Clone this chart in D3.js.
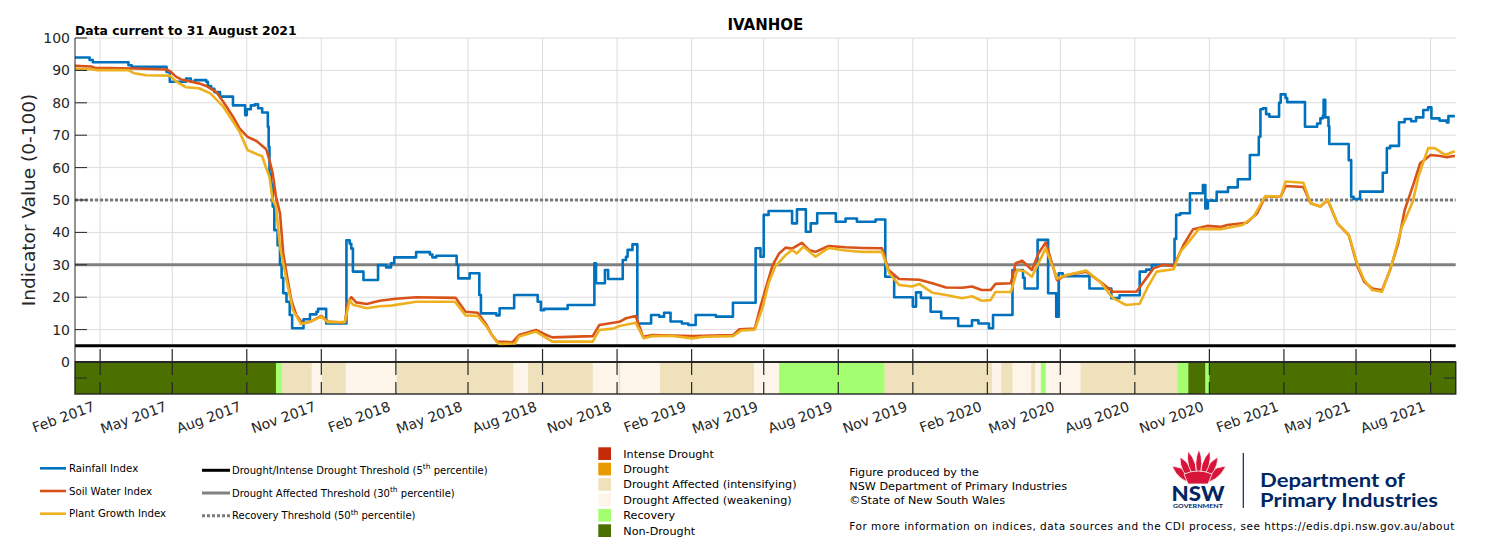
<!DOCTYPE html>
<html>
<head>
<meta charset="utf-8">
<script src="https://cdn.jsdelivr.net/npm/d3@7"></script>
<style>
  body { margin: 0; background: #fff; }
  svg { display: block; font-family: 'DejaVu Sans', sans-serif; }
</style>
</head>
<body>
<div id="chart"></div>
<script>
(function () {

  // rainfall index (step series), [date, value]
  const rainfall = [
    ['2017-01-01', 94.0], ['2017-01-19', 93.2], ['2017-01-23', 92.5], ['2017-03-08', 91.6],
    ['2017-03-12', 91.1], ['2017-04-24', 89.5], ['2017-04-28', 86.5], ['2017-05-18', 87.5],
    ['2017-05-24', 86.5], ['2017-05-29', 87.0], ['2017-06-12', 86.5], ['2017-06-14', 85.2],
    ['2017-06-18', 84.3], ['2017-06-22', 83.3], ['2017-06-29', 81.9], ['2017-07-15', 79.2],
    ['2017-07-30', 76.2], ['2017-08-01', 78.0], ['2017-08-06', 79.2], ['2017-08-11', 79.5],
    ['2017-08-15', 78.3], ['2017-08-20', 77.0], ['2017-08-27', 72.6], ['2017-08-28', 66.4],
    ['2017-08-29', 58.1], ['2017-08-31', 55.0], ['2017-09-02', 48.0], ['2017-09-04', 40.7],
    ['2017-09-08', 36.0], ['2017-09-11', 30.0], ['2017-09-13', 26.0], ['2017-09-15', 21.2],
    ['2017-09-19', 18.6], ['2017-09-23', 14.5], ['2017-09-26', 10.4], ['2017-10-10', 13.2],
    ['2017-10-18', 14.7], ['2017-10-26', 15.5], ['2017-10-28', 16.4], ['2017-11-07', 11.9],
    ['2017-12-02', 37.6], ['2017-12-06', 36.5], ['2017-12-08', 35.0], ['2017-12-10', 27.9],
    ['2017-12-23', 25.3], ['2018-01-10', 29.9], ['2018-01-20', 29.2], ['2018-01-26', 30.5],
    ['2018-01-30', 32.3], ['2018-02-26', 33.9], ['2018-03-15', 33.2], ['2018-03-18', 32.3],
    ['2018-03-23', 32.8], ['2018-04-17', 30.0], ['2018-04-19', 25.8], ['2018-05-03', 27.4],
    ['2018-05-15', 20.7], ['2018-05-17', 15.0], ['2018-06-05', 14.4], ['2018-06-09', 16.6],
    ['2018-06-27', 20.7], ['2018-07-26', 18.6], ['2018-07-30', 16.0], ['2018-08-03', 16.4],
    ['2018-09-01', 17.6], ['2018-10-04', 30.5], ['2018-10-06', 24.3], ['2018-10-17', 28.4],
    ['2018-10-21', 25.6], ['2018-11-08', 31.5], ['2018-11-12', 32.5], ['2018-11-14', 34.6],
    ['2018-11-20', 36.3], ['2018-11-26', 11.9], ['2018-12-13', 14.5], ['2018-12-23', 14.0],
    ['2018-12-29', 15.2], ['2019-01-06', 12.5], ['2019-01-20', 11.9], ['2019-01-28', 11.4],
    ['2019-02-06', 14.5], ['2019-03-03', 14.0], ['2019-03-24', 18.3], ['2019-04-21', 35.1],
    ['2019-04-27', 32.5], ['2019-05-01', 45.4], ['2019-05-07', 46.6], ['2019-06-05', 42.8],
    ['2019-06-11', 47.1], ['2019-06-22', 40.2], ['2019-06-28', 42.8], ['2019-07-06', 45.9],
    ['2019-07-29', 43.3], ['2019-08-10', 44.3], ['2019-08-24', 43.3], ['2019-09-16', 44.0],
    ['2019-09-28', 26.3], ['2019-10-09', 20.0], ['2019-11-01', 17.1], ['2019-11-05', 21.5],
    ['2019-11-11', 19.8], ['2019-11-23', 15.5], ['2019-12-06', 13.5], ['2019-12-27', 11.1],
    ['2020-01-13', 12.9], ['2020-01-21', 11.9], ['2020-02-03', 10.4], ['2020-02-08', 14.5],
    ['2020-03-03', 28.4], ['2020-03-16', 26.0], ['2020-03-18', 22.7], ['2020-04-03', 37.7],
    ['2020-04-16', 21.2], ['2020-04-26', 14.0], ['2020-04-29', 27.4], ['2020-05-04', 26.5],
    ['2020-06-06', 22.7], ['2020-07-03', 19.7], ['2020-07-13', 20.6], ['2020-08-07', 27.9],
    ['2020-08-15', 28.5], ['2020-08-22', 29.9], ['2020-09-19', 38.0], ['2020-09-21', 45.4],
    ['2020-09-26', 45.9], ['2020-10-08', 52.1], ['2020-10-24', 54.6], ['2020-10-27', 47.4],
    ['2020-10-30', 49.8], ['2020-11-10', 52.5], ['2020-11-24', 53.9], ['2020-12-06', 56.4],
    ['2020-12-21', 63.9], ['2021-01-01', 69.5], ['2021-01-03', 78.0], ['2021-01-06', 78.3],
    ['2021-01-10', 76.5], ['2021-01-14', 75.7], ['2021-01-26', 80.0], ['2021-01-28', 82.6],
    ['2021-02-03', 81.5], ['2021-02-05', 80.2], ['2021-02-27', 72.6], ['2021-03-14', 73.6],
    ['2021-03-18', 75.2], ['2021-03-21', 76.0], ['2021-03-22', 80.9], ['2021-03-24', 75.5],
    ['2021-03-28', 72.8], ['2021-03-29', 67.3], ['2021-04-22', 62.3], ['2021-04-25', 51.0],
    ['2021-04-28', 50.3], ['2021-05-06', 52.6], ['2021-06-03', 58.4], ['2021-06-08', 66.0],
    ['2021-06-12', 66.7], ['2021-06-23', 74.0], ['2021-06-30', 75.0], ['2021-07-08', 74.3],
    ['2021-07-14', 75.5], ['2021-07-23', 77.8], ['2021-07-29', 78.6], ['2021-08-02', 75.2],
    ['2021-08-12', 74.5], ['2021-08-21', 73.9], ['2021-08-23', 75.9], ['2021-08-31', 75.9]
  ];

  // soil water index
  const soilWater = [
    ['2017-01-01', 91.4], ['2017-01-21', 91.2], ['2017-01-25', 90.8], ['2017-03-15', 90.6],
    ['2017-04-24', 90.3], ['2017-04-28', 89.8], ['2017-05-06', 88.0], ['2017-05-12', 87.2],
    ['2017-06-03', 86.0], ['2017-06-12', 85.2], ['2017-06-24', 83.4], ['2017-07-03', 80.3],
    ['2017-07-15', 75.7], ['2017-07-23', 72.1], ['2017-08-02', 69.5], ['2017-08-13', 68.2],
    ['2017-08-25', 65.7], ['2017-08-29', 62.3], ['2017-09-02', 58.2], ['2017-09-06', 51.0],
    ['2017-09-11', 45.9], ['2017-09-15', 33.5], ['2017-09-19', 27.4], ['2017-09-25', 19.1],
    ['2017-10-01', 14.5], ['2017-10-09', 11.9], ['2017-10-18', 12.4], ['2017-11-01', 14.2],
    ['2017-11-09', 12.5], ['2017-11-30', 12.1], ['2017-12-04', 18.6], ['2017-12-08', 20.0],
    ['2017-12-14', 18.4], ['2017-12-27', 17.9], ['2018-01-12', 18.9], ['2018-02-01', 19.5],
    ['2018-02-26', 20.0], ['2018-04-16', 19.8], ['2018-04-20', 18.3], ['2018-04-28', 15.5],
    ['2018-05-13', 15.2], ['2018-05-24', 11.4], ['2018-05-30', 8.5], ['2018-06-06', 6.3],
    ['2018-06-25', 6.1], ['2018-07-03', 8.3], ['2018-07-24', 9.9], ['2018-08-05', 8.4],
    ['2018-08-13', 7.6], ['2018-10-02', 8.0], ['2018-10-10', 11.4], ['2018-11-04', 12.4],
    ['2018-11-12', 13.5], ['2018-11-24', 14.2], ['2018-12-03', 7.8], ['2018-12-15', 8.3],
    ['2019-02-02', 8.0], ['2019-03-24', 8.3], ['2019-04-01', 10.1], ['2019-04-20', 10.3],
    ['2019-04-27', 17.1], ['2019-05-04', 23.2], ['2019-05-12', 29.9], ['2019-05-20', 33.5],
    ['2019-05-28', 35.3], ['2019-06-05', 35.0], ['2019-06-17', 36.8], ['2019-06-26', 34.5],
    ['2019-07-04', 34.0], ['2019-07-20', 35.8], ['2019-08-10', 35.4], ['2019-08-31', 35.2],
    ['2019-09-24', 35.1], ['2019-10-02', 28.4], ['2019-10-15', 25.6], ['2019-11-09', 25.4],
    ['2019-11-25', 24.3], ['2019-12-12', 23.0], ['2020-01-01', 22.9], ['2020-01-13', 23.3],
    ['2020-01-25', 22.2], ['2020-02-05', 22.2], ['2020-02-11', 24.1], ['2020-03-01', 24.3],
    ['2020-03-07', 30.5], ['2020-03-15', 31.3], ['2020-03-27', 28.4], ['2020-04-04', 33.5],
    ['2020-04-13', 36.9], ['2020-04-27', 25.3], ['2020-05-08', 26.8], ['2020-06-02', 27.9],
    ['2020-06-19', 24.8], ['2020-07-05', 21.7], ['2020-08-03', 21.7], ['2020-08-24', 28.9],
    ['2020-09-05', 30.0], ['2020-09-18', 29.6], ['2020-09-30', 36.1], ['2020-10-12', 41.0],
    ['2020-10-29', 42.0], ['2020-11-15', 41.7], ['2020-11-23', 42.3], ['2020-12-17', 43.0],
    ['2020-12-30', 45.9], ['2021-01-09', 51.0], ['2021-01-28', 51.0], ['2021-02-03', 54.3],
    ['2021-02-25', 54.0], ['2021-03-06', 49.0], ['2021-03-18', 48.0], ['2021-03-27', 50.0],
    ['2021-04-08', 42.8], ['2021-04-22', 39.2], ['2021-05-03', 29.4], ['2021-05-11', 24.8],
    ['2021-05-21', 22.7], ['2021-06-02', 22.1], ['2021-06-12', 28.4], ['2021-06-22', 36.6],
    ['2021-06-30', 46.9], ['2021-07-11', 55.0], ['2021-07-19', 61.3], ['2021-08-01', 63.9],
    ['2021-08-13', 63.6], ['2021-08-21', 63.2], ['2021-08-29', 63.6], ['2021-08-31', 63.5]
  ];

  // plant growth index
  const plantGrowth = [
    ['2017-01-01', 90.4], ['2017-01-21', 90.4], ['2017-01-27', 90.1], ['2017-03-08', 90.1],
    ['2017-03-15', 89.1], ['2017-03-30', 88.5], ['2017-04-28', 88.4], ['2017-05-06', 86.5],
    ['2017-05-18', 84.8], ['2017-06-03', 84.5], ['2017-06-17', 82.9], ['2017-07-03', 78.8],
    ['2017-07-15', 74.2], ['2017-07-23', 71.1], ['2017-08-02', 65.4], ['2017-08-13', 64.2],
    ['2017-08-20', 63.5], ['2017-08-25', 59.8], ['2017-08-29', 57.2], ['2017-09-02', 50.0],
    ['2017-09-06', 48.0], ['2017-09-11', 35.6], ['2017-09-19', 25.3], ['2017-09-27', 16.0],
    ['2017-10-07', 11.7], ['2017-10-18', 12.4], ['2017-11-01', 14.0], ['2017-11-09', 12.3],
    ['2017-11-30', 12.3], ['2017-12-06', 19.1], ['2017-12-10', 17.7], ['2017-12-27', 16.6],
    ['2018-01-12', 17.2], ['2018-01-26', 17.4], ['2018-02-26', 18.6], ['2018-04-15', 18.6],
    ['2018-04-28', 14.4], ['2018-05-13', 14.2], ['2018-05-24', 10.9], ['2018-06-05', 6.3],
    ['2018-06-09', 5.6], ['2018-06-28', 5.7], ['2018-07-03', 7.9], ['2018-07-24', 9.4],
    ['2018-08-13', 6.3], ['2018-10-02', 6.3], ['2018-10-10', 9.9], ['2018-10-27', 10.3],
    ['2018-11-04', 11.1], ['2018-11-24', 12.1], ['2018-12-04', 7.3], ['2018-12-15', 8.0],
    ['2019-01-06', 8.1], ['2019-02-02', 7.3], ['2019-02-16', 7.8], ['2019-03-24', 8.0],
    ['2019-04-03', 9.7], ['2019-04-20', 10.0], ['2019-04-30', 17.1], ['2019-05-07', 24.3],
    ['2019-05-15', 29.4], ['2019-05-28', 33.0], ['2019-06-05', 34.6], ['2019-06-11', 33.5],
    ['2019-06-19', 35.6], ['2019-07-04', 32.5], ['2019-07-20', 35.2], ['2019-08-10', 34.4],
    ['2019-08-31', 34.0], ['2019-09-24', 34.0], ['2019-10-03', 27.4], ['2019-10-15', 23.8],
    ['2019-10-31', 23.3], ['2019-11-09', 24.1], ['2019-11-25', 21.4], ['2019-12-12', 20.7],
    ['2020-01-01', 19.7], ['2020-01-13', 20.3], ['2020-01-25', 18.9], ['2020-02-05', 19.1],
    ['2020-02-11', 21.6], ['2020-03-01', 21.6], ['2020-03-09', 28.4], ['2020-03-18', 28.0],
    ['2020-03-27', 26.3], ['2020-04-04', 30.5], ['2020-04-13', 35.1], ['2020-04-27', 25.8],
    ['2020-05-08', 26.8], ['2020-06-02', 28.2], ['2020-06-19', 24.8], ['2020-07-05', 19.7],
    ['2020-07-21', 17.6], ['2020-08-07', 18.0], ['2020-08-17', 23.2], ['2020-08-28', 27.9],
    ['2020-09-18', 28.6], ['2020-09-26', 34.0], ['2020-10-05', 36.6], ['2020-10-19', 41.0],
    ['2020-11-15', 41.0], ['2020-12-12', 42.3], ['2020-12-26', 45.0], ['2021-01-09', 51.2],
    ['2021-01-28', 51.0], ['2021-02-03', 55.7], ['2021-02-25', 55.3], ['2021-03-06', 49.0],
    ['2021-03-18', 48.0], ['2021-03-27', 50.2], ['2021-04-08', 42.8], ['2021-04-22', 39.2],
    ['2021-05-03', 30.0], ['2021-05-11', 25.3], ['2021-05-21', 22.2], ['2021-06-02', 21.7],
    ['2021-06-14', 30.0], ['2021-06-26', 41.3], ['2021-07-10', 49.5], ['2021-07-17', 57.2],
    ['2021-07-29', 66.0], ['2021-08-06', 66.0], ['2021-08-19', 63.9], ['2021-08-29', 64.9],
    ['2021-08-31', 64.9]
  ];

  // drought category strip: start date of each spell and its category
  const spellStarts = [
    '2017-01-01', '2017-09-06', '2017-09-13', '2017-10-20', '2017-11-02', '2017-12-01',
    '2018-02-02', '2018-06-26', '2018-07-14', '2018-10-02', '2018-11-03', '2018-11-05',
    '2018-12-24', '2019-04-19', '2019-05-20', '2019-09-27', '2020-02-07', '2020-02-18',
    '2020-03-03', '2020-03-26', '2020-03-31', '2020-04-07', '2020-04-13', '2020-05-26',
    '2020-09-23', '2020-10-06', '2020-10-27', '2020-11-01'
  ];
  const spellCats = [
    5, 4, 2, 3, 2, 3,
    2, 3, 2, 3, 2, 3,
    2, 3, 4, 2, 3, 2,
    3, 2, 3, 4, 3, 2,
    4, 5, 4, 5
  ];
  const endDate = '2021-09-01';

  const categories = ['Intense Drought', 'Drought', 'Drought Affected (intensifying)',
    'Drought Affected (weakening)', 'Recovery', 'Non-Drought'];
  const categoryColors = ['#c42b08', '#e89900', '#eee1bc', '#fdf5ea', '#a3ff70', '#4b7000'];

  const seriesNames = ['Rainfall Index', 'Soil Water Index', 'Plant Growth Index'];
  const seriesColors = ['#0072bd', '#d95319', '#edb120'];

  const thresholds = [5, 30, 50];
  const thresholdNames = ['Drought/Intense Drought Threshold (5', 'Drought Affected Threshold (30',
    'Recovery Threshold (50'];

  const yTicks = [0, 10, 20, 30, 40, 50, 60, 70, 80, 90, 100];
  const xTicks = ['2017-02-01', '2017-05-01', '2017-08-01', '2017-11-01', '2018-02-01',
    '2018-05-01', '2018-08-01', '2018-11-01', '2019-02-01', '2019-05-01', '2019-08-01',
    '2019-11-01', '2020-02-01', '2020-05-01', '2020-08-01', '2020-11-01', '2021-02-01',
    '2021-05-01', '2021-08-01'];

  const width = 1500,
    height = 541,
    left = 75,
    right = 1455.7,
    top = 38,
    bottom = 362,
    bandBottom = 394,
    ink = '#262626';

  const parse = d3.timeParse('%Y-%m-%d');
  const fmt = d3.timeFormat('%b %Y');

  const x = d3.scaleTime()
    .domain([parse('2017-01-01'), parse(endDate)])
    .range([left, right]);
  const y = d3.scaleLinear().domain([0, 100]).range([bottom, top]);
  const yb = d3.scaleLinear().domain([-10, 0]).range([bandBottom, bottom]);

  const svg = d3.select('#chart')
    .append('svg')
    .attr('width', width)
    .attr('height', height);

  // titles
  svg.append('text')
    .attr('x', left).attr('y', 35)
    .attr('font-size', 12.4).attr('font-weight', 'bold')
    .text('Data current to 31 August 2021');
  svg.append('text')
    .attr('x', (left + right) / 2).attr('y', 30)
    .attr('text-anchor', 'middle')
    .attr('font-size', 15).attr('font-weight', 'bold')
    .text('IVANHOE');

  // grid
  const grid = svg.append('g').attr('stroke', '#dcdcdc').attr('stroke-width', 1);
  grid.selectAll('.hg')
    .data(yTicks.filter(d => d > 0))
    .enter().append('line')
    .attr('x1', left).attr('x2', right)
    .attr('y1', d => y(d)).attr('y2', d => y(d));
  grid.selectAll('.vg')
    .data(xTicks)
    .enter().append('line')
    .attr('x1', d => x(parse(d))).attr('x2', d => x(parse(d)))
    .attr('y1', top).attr('y2', y(5));

  // thresholds
  const thrStyle = [
    { c: '#000', w: 3, dash: null },
    { c: '#808080', w: 3, dash: null },
    { c: '#7a7a7a', w: 3, dash: '3,2' }
  ];
  svg.selectAll('.thr')
    .data(thresholds)
    .enter().append('line')
    .attr('x1', left).attr('x2', right)
    .attr('y1', d => y(d)).attr('y2', d => y(d))
    .attr('stroke', (d, i) => thrStyle[i].c)
    .attr('stroke-width', (d, i) => thrStyle[i].w)
    .attr('stroke-dasharray', (d, i) => thrStyle[i].dash);

  // index lines
  const toPts = arr => arr.map(d => ({ date: parse(d[0]), value: d[1] }));
  const stepLine = d3.line().x(d => x(d.date)).y(d => y(d.value)).curve(d3.curveStepAfter);
  const plainLine = d3.line().x(d => x(d.date)).y(d => y(d.value));

  const series = [
    { pts: toPts(rainfall), gen: stepLine },
    { pts: toPts(soilWater), gen: plainLine },
    { pts: toPts(plantGrowth), gen: plainLine }
  ];
  series.forEach((s, i) => {
    svg.append('path')
      .attr('d', s.gen(s.pts))
      .attr('fill', 'none')
      .attr('stroke', seriesColors[i])
      .attr('stroke-width', 2.6)
      .attr('stroke-linejoin', 'round');
  });

  // left axis of main panel
  svg.append('line')
    .attr('x1', left).attr('x2', left).attr('y1', top).attr('y2', bottom)
    .attr('stroke', ink);
  svg.selectAll('.ytick')
    .data(yTicks)
    .enter().append('line')
    .attr('x1', left).attr('x2', left + 12)
    .attr('y1', d => y(d)).attr('y2', d => y(d))
    .attr('stroke', ink);
  svg.selectAll('.ylab')
    .data(yTicks)
    .enter().append('text')
    .attr('x', left - 5).attr('y', d => y(d))
    .attr('dy', '0.36em')
    .attr('text-anchor', 'end')
    .attr('font-size', 14)
    .attr('fill', ink)
    .text(d => d);
  svg.append('text')
    .attr('transform', `translate(35, ${(top + bottom) / 2}) rotate(-90)`)
    .attr('text-anchor', 'middle')
    .attr('font-size', 18.5)
    .attr('fill', ink)
    .text('Indicator Value (0-100)');

  // drought category strip
  const spells = spellStarts.map((s, i) => ({
    start: parse(s),
    end: parse(i + 1 < spellStarts.length ? spellStarts[i + 1] : endDate),
    cat: spellCats[i]
  }));
  svg.selectAll('.spell')
    .data(spells)
    .enter().append('rect')
    .attr('x', d => x(d.start))
    .attr('width', d => x(d.end) - x(d.start) + 0.4)
    .attr('y', yb(0))
    .attr('height', yb(-10) - yb(0))
    .attr('fill', d => categoryColors[d.cat]);
  svg.append('rect')
    .attr('x', left).attr('y', yb(0))
    .attr('width', right - left).attr('height', yb(-10) - yb(0))
    .attr('fill', 'none').attr('stroke', ink).attr('stroke-width', 1.4);
  svg.append('line')
    .attr('x1', left).attr('x2', right).attr('y1', bottom).attr('y2', bottom)
    .attr('stroke', ink).attr('stroke-width', 2);
  [[left, left + 12], [right - 12, right]].forEach(p => {
    svg.append('line')
      .attr('x1', p[0]).attr('x2', p[1])
      .attr('y1', yb(-5)).attr('y2', yb(-5))
      .attr('stroke', ink);
  });

  // x ticks: main panel bottom, strip top and bottom
  const xt = svg.append('g').attr('stroke', ink).attr('stroke-width', 1.2);
  xTicks.forEach(t => {
    const px = x(parse(t));
    xt.append('line').attr('x1', px).attr('x2', px).attr('y1', bottom - 13).attr('y2', bottom);
    xt.append('line').attr('x1', px).attr('x2', px).attr('y1', bottom).attr('y2', bottom + 13);
    xt.append('line').attr('x1', px).attr('x2', px).attr('y1', bandBottom - 12).attr('y2', bandBottom);
  });
  svg.selectAll('.xlab')
    .data(xTicks)
    .enter().append('text')
    .attr('transform', d => `translate(${x(parse(d)) - 8}, 401) rotate(-20)`)
    .attr('dy', '0.72em')
    .attr('text-anchor', 'end')
    .attr('font-size', 14)
    .attr('fill', ink)
    .text(d => fmt(parse(d)));

  // legend: indices
  const lg1 = svg.append('g').attr('font-size', 10.2);
  seriesNames.forEach((n, i) => {
    const yy = 468.3 + i * 22.7;
    lg1.append('line').attr('x1', 40).attr('x2', 66).attr('y1', yy).attr('y2', yy)
      .attr('stroke', seriesColors[i]).attr('stroke-width', 2.6);
    lg1.append('text').attr('x', 69).attr('y', yy).attr('dy', '0.35em').text(n);
  });

  // legend: thresholds
  const lg2 = svg.append('g').attr('font-size', 10);
  thresholdNames.forEach((n, i) => {
    const yy = 470.3 + i * 22.7;
    lg2.append('line').attr('x1', 202).attr('x2', 230).attr('y1', yy).attr('y2', yy)
      .attr('stroke', thrStyle[i].c).attr('stroke-width', thrStyle[i].w)
      .attr('stroke-dasharray', thrStyle[i].dash);
    const t = lg2.append('text').attr('x', 232).attr('y', yy).attr('dy', '0.35em');
    t.append('tspan').text(n);
    t.append('tspan').attr('font-size', 7.5).attr('dy', '-0.6em').text('th');
    t.append('tspan').attr('dy', '0.45em').text(' percentile)');
  });

  // legend: categories
  const lg3 = svg.append('g').attr('font-size', 11.2);
  categories.forEach((n, i) => {
    const yy = 447.3 + i * 15.4;
    lg3.append('rect').attr('x', 598.3).attr('y', yy).attr('width', 12.7).attr('height', 12.7)
      .attr('fill', categoryColors[i]);
    lg3.append('text').attr('x', 623.3).attr('y', yy + 6.4).attr('dy', '0.35em').text(n);
  });

  // credits
  const cr = svg.append('g').attr('font-size', 11.2);
  ['Figure produced by the', 'NSW Department of Primary Industries', '\u00a9State of New South Wales']
    .forEach((s, i) => cr.append('text').attr('x', 849.3).attr('y', 475.7 + i * 14.2).text(s));
  cr.append('text').attr('x', 849.3).attr('y', 530)
    .attr('font-size', 10.5)
    .attr('textLength', 605).attr('lengthAdjust', 'spacing')
    .text('For more information on indices, data sources and the CDI process, see https://edis.dpi.nsw.gov.au/about');

  // NSW government logo
  const logo = svg.append('g');
  const petal = (bx, by, tx, ty, w) => {
    const mx = (bx + tx) / 2, my = (by + ty) / 2;
    const dx = tx - bx, dy = ty - by, len = Math.hypot(dx, dy);
    const nx = -dy / len * w, ny = dx / len * w;
    return `M${bx},${by} Q${mx + nx},${my + ny} ${tx},${ty} Q${mx - nx},${my - ny} ${bx},${by} Z`;
  };
  const petals = [
    [1196, 484, 1172, 466, 9], [1200, 484, 1226, 466, 9],
    [1193, 481, 1180, 457, 8], [1203, 481, 1218, 457, 8],
    [1196, 479, 1188, 451, 7], [1201, 479, 1210, 451, 7],
    [1198.5, 478, 1199, 449, 6]
  ];
  petals.forEach(p => {
    logo.append('path').attr('d', petal(...p))
      .attr('fill', '#d7153a').attr('stroke', '#fff').attr('stroke-width', 0.8);
  });
  logo.append('path')
    .attr('d', 'M1184,474 Q1198,468 1212,474 L1208,484 L1188,484 Z')
    .attr('fill', '#d7153a').attr('stroke', '#fff').attr('stroke-width', 0.8);
  logo.append('text')
    .attr('x', 1198).attr('y', 500.7).attr('text-anchor', 'middle')
    .attr('font-family', 'Lato, sans-serif').attr('font-weight', 900).attr('font-size', 21)
    .attr('textLength', 53).attr('lengthAdjust', 'spacingAndGlyphs')
    .attr('fill', '#002664').text('NSW');
  logo.append('text')
    .attr('x', 1198).attr('y', 507.6).attr('text-anchor', 'middle')
    .attr('font-family', 'Lato, sans-serif').attr('font-weight', 700).attr('font-size', 5)
    .attr('textLength', 50).attr('lengthAdjust', 'spacingAndGlyphs')
    .attr('fill', '#002664').text('GOVERNMENT');
  logo.append('line')
    .attr('x1', 1243.3).attr('x2', 1243.3).attr('y1', 453).attr('y2', 508)
    .attr('stroke', '#002664').attr('stroke-width', 1.2);
  logo.append('text')
    .attr('x', 1260).attr('y', 487.3)
    .attr('font-family', 'Lato, sans-serif').attr('font-weight', 700).attr('font-size', 18)
    .attr('textLength', 145).attr('lengthAdjust', 'spacingAndGlyphs')
    .attr('fill', '#002664').text('Department of');
  logo.append('text')
    .attr('x', 1260).attr('y', 507)
    .attr('font-family', 'Lato, sans-serif').attr('font-weight', 700).attr('font-size', 18)
    .attr('textLength', 178).attr('lengthAdjust', 'spacingAndGlyphs')
    .attr('fill', '#002664').text('Primary Industries');

})();
</script>
</body>
</html>
